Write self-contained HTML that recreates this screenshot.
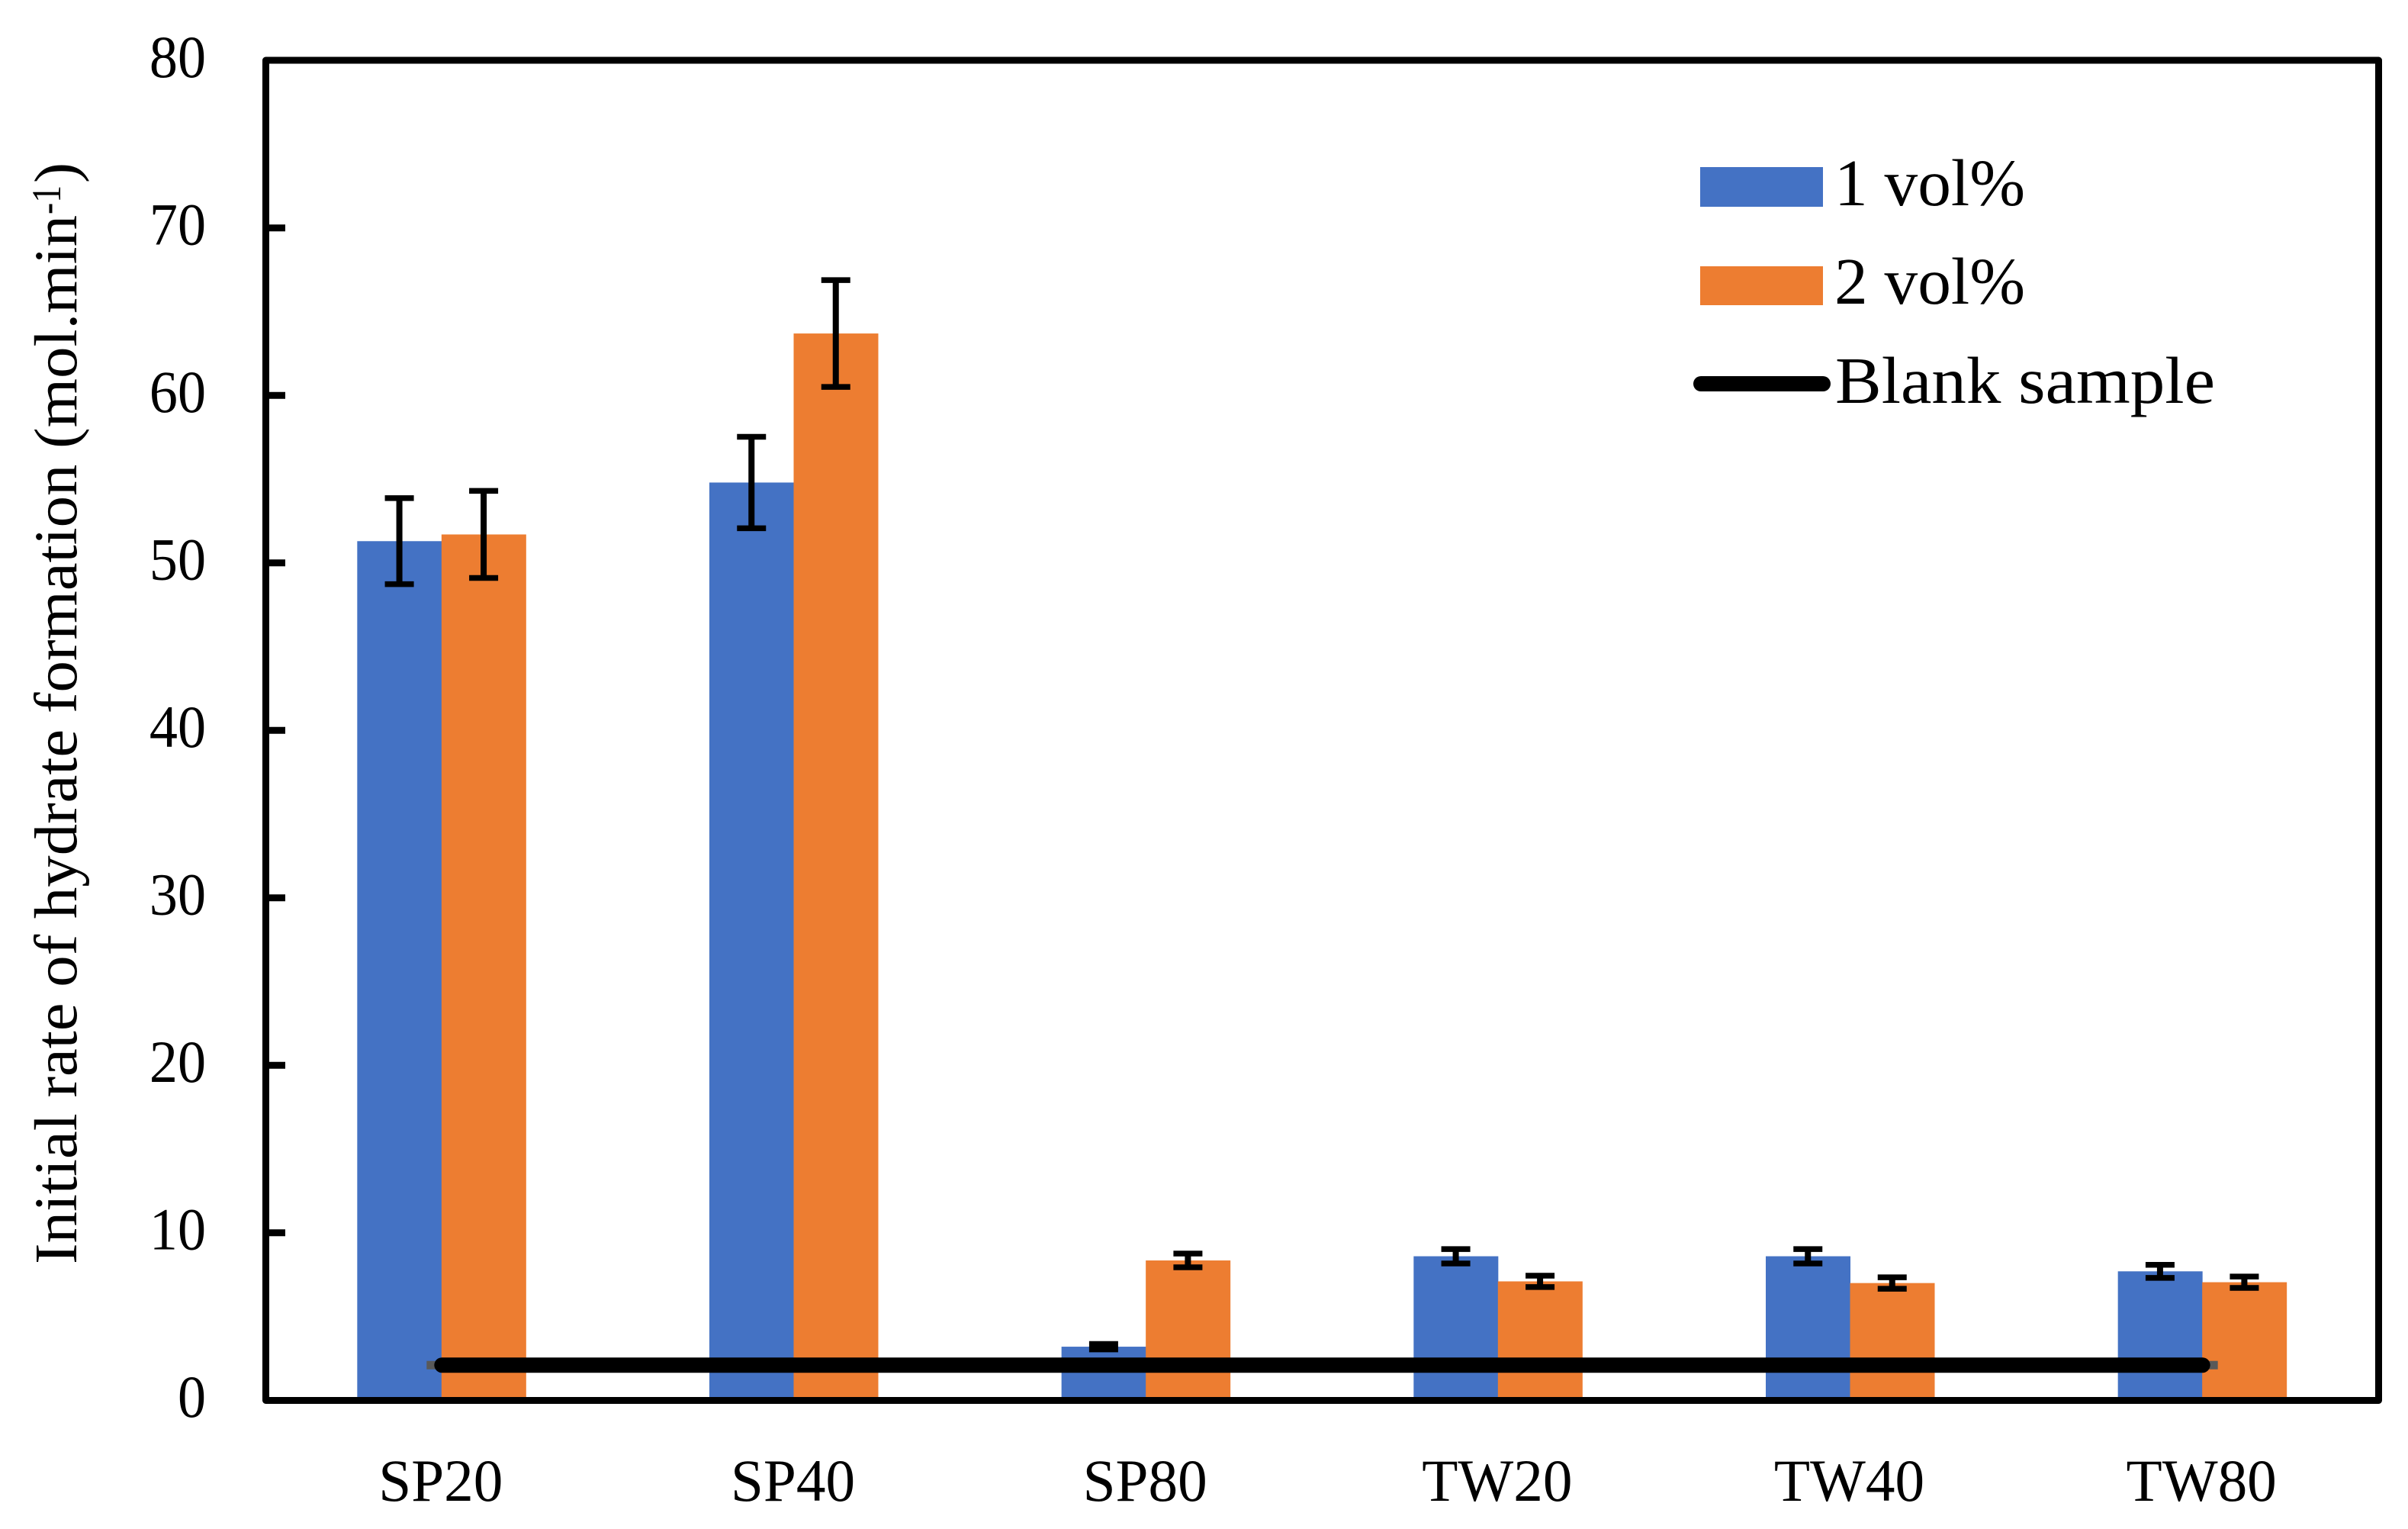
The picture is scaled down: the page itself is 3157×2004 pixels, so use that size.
<!DOCTYPE html>
<html lang="en">
<head>
<meta charset="utf-8">
<title>Initial rate of hydrate formation</title>
<style>
html,body{margin:0;padding:0;background:#fff;width:3157px;height:2004px;overflow:hidden}
svg{display:block}
text{font-family:"Liberation Serif",serif;fill:#000}
</style>
</head>
<body>
<svg id="chart" xmlns="http://www.w3.org/2000/svg" width="3157" height="2004" viewBox="0 0 3157 2004">
  <rect x="0" y="0" width="3157" height="2004" fill="#ffffff"/>
  <g id="bars"></g>
  <g id="errors"></g>
  <g id="blank"></g>
  <rect x="348.5" y="79" width="2770" height="1756.5" fill="none" stroke="#000" stroke-width="9" stroke-linejoin="round"/>
  <g id="yaxis"></g>
  <g id="xaxis"></g>
  <g font-size="79">
    <text transform="translate(100,1657) rotate(-90)" textLength="1375" lengthAdjust="spacingAndGlyphs">Initial rate of hydrate formation (mol.min</text>
    <text transform="translate(79,281) rotate(-90)" font-size="54" textLength="38" lengthAdjust="spacingAndGlyphs">-1</text>
    <text transform="translate(100,240) rotate(-90)" textLength="27" lengthAdjust="spacingAndGlyphs">)</text>
  </g>
  <g font-size="87">
    <g>
      <rect x="2229" y="219" width="161" height="52" fill="#4472C4"/>
      <text x="2405" y="269" textLength="250" lengthAdjust="spacingAndGlyphs">1 vol%</text>
    </g>
    <g>
      <rect x="2229" y="349" width="161" height="51" fill="#ED7D31"/>
      <text x="2405" y="398" textLength="250" lengthAdjust="spacingAndGlyphs">2 vol%</text>
    </g>
    <g>
      <line x1="2230" y1="503" x2="2390" y2="503" stroke="#000" stroke-width="20" stroke-linecap="round"/>
      <text x="2406" y="528" textLength="498" lengthAdjust="spacingAndGlyphs">Blank sample</text>
    </g>
  </g>
</svg>
<script>
const categories = ["SP20", "SP40", "SP80", "TW20", "TW40", "TW80"];
const vol1Values = [51.3, 54.8, 3.2, 8.6, 8.6, 7.7];
const vol2Values = [51.7, 63.7, 8.35, 7.1, 7.0, 7.05];
const vol1Errors = [2.57, 2.73, 0.16, 0.43, 0.43, 0.39];
const vol2Errors = [2.6, 3.19, 0.41, 0.34, 0.34, 0.34];
const blankValues = [2.1, 2.1, 2.1, 2.1, 2.1, 2.1];
const yTickLabels = [0, 10, 20, 30, 40, 50, 60, 70, 80];

const NS = "http://www.w3.org/2000/svg";
const plotLeft = 348.5, plotRight = 3118.5, plotBaseline = 1835.3, pxPerUnit = 21.95;
const bandWidth = (plotRight - plotLeft) / categories.length;
const barWidth = 110.5;
function yScale(v) { return plotBaseline - v * pxPerUnit; }
function xCenter(i) { return plotLeft + bandWidth * (i + 0.5); }
function make(tag, attrs, parent) {
  const el = document.createElementNS(NS, tag);
  for (const k in attrs) el.setAttribute(k, attrs[k]);
  parent.appendChild(el);
  return el;
}

const barsG = document.getElementById("bars");
const errorsG = document.getElementById("errors");
const blankG = document.getElementById("blank");
const yG = document.getElementById("yaxis");
const xG = document.getElementById("xaxis");

function drawBars(values, errors, offset, color, key) {
  values.forEach(function (v, i) {
    const left = xCenter(i) + offset * barWidth - 0.5;
    const bar = make("rect", { x: left, y: yScale(v), width: barWidth + 0.5, height: plotBaseline - yScale(v), fill: color }, barsG);
    
    
    const cx = left + barWidth / 2;
    const top = yScale(v + errors[i]);
    const bottom = yScale(v - errors[i]);
    const group = make("g", { stroke: "#000", fill: "none" }, errorsG);
    
    
    make("line", { x1: cx, y1: top, x2: cx, y2: bottom, "stroke-width": 8 }, group);
    make("line", { x1: cx - 19, y1: top, x2: cx + 19, y2: top, "stroke-width": 7.5 }, group);
    make("line", { x1: cx - 19, y1: bottom, x2: cx + 19, y2: bottom, "stroke-width": 7.5 }, group);
  });
}
drawBars(vol1Values, vol1Errors, -1, "#4472C4", "1-vol");
drawBars(vol2Values, vol2Errors, 0, "#ED7D31", "2-vol");

blankValues.forEach(function (v, i) {
  const marker = make("rect", { x: xCenter(i) - 20, y: yScale(v) - 5.5, width: 40, height: 11, fill: "#595959" }, blankG);
  
  
});
const blankPoints = blankValues.map(function (v, i) { return xCenter(i) + "," + yScale(v); }).join(" ");
const blankLine = make("polyline", { points: blankPoints, fill: "none", stroke: "#000", "stroke-width": 20, "stroke-linecap": "round", "stroke-linejoin": "round" }, blankG);



yTickLabels.forEach(function (t) {
  const y = yScale(t);
  if (t > 0 && t < 80) {
    const tick = make("line", { x1: 350, y1: y, x2: 374, y2: y, stroke: "#000", "stroke-width": 9 }, yG);
    
    
  }
  const label = make("text", { transform: "translate(270," + (y + 21.5) + ") scale(0.95,1)", "text-anchor": "end", "font-size": 78 }, yG);
  
  
  label.textContent = String(t);
});

categories.forEach(function (c, i) {
  const label = make("text", { transform: "translate(" + (xCenter(i) - 1.5) + ",1967) scale(0.99,1)", "text-anchor": "middle", "font-size": 78 }, xG);
  
  
  label.textContent = c;
});
</script>
</body>
</html>
